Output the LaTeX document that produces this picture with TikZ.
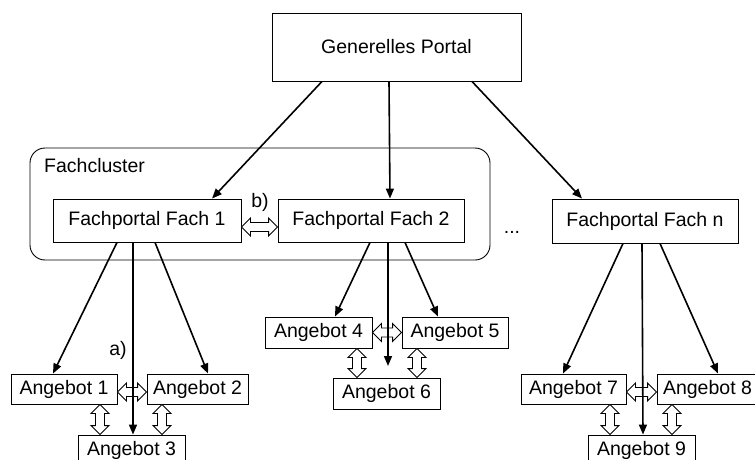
\documentclass[tikz,border=0pt]{standalone}
\usepackage{fontspec}
\setmainfont{Liberation Sans}
\usetikzlibrary{arrows.meta,calc}
\begin{document}
\begin{tikzpicture}[x=1pt,y=-1pt,
  txt/.style={font=\fontsize{19.5}{23}\selectfont, inner sep=0pt},
  box/.style={txt, draw, line width=0.9pt, fill=white},
  abox/.style={box, minimum height=30pt},
  fbox/.style={box, minimum height=43pt, minimum width=187pt},
  arr/.style={line width=1.6pt, -{Triangle[length=10pt,width=8pt]}},
  hollowh/.style={line width=0.9pt, fill=white, to path={
    (\tikztostart) -- ($(\tikztostart)+(9pt,9pt)$) -- ($(\tikztostart)+(9pt,4.5pt)$)
    -- ($(\tikztotarget)+(-9pt,4.5pt)$) -- ($(\tikztotarget)+(-9pt,9pt)$) -- (\tikztotarget)
    -- ($(\tikztotarget)+(-9pt,-9pt)$) -- ($(\tikztotarget)+(-9pt,-4.5pt)$)
    -- ($(\tikztostart)+(9pt,-4.5pt)$) -- ($(\tikztostart)+(9pt,-9pt)$) -- cycle}},
  hollowv/.style={line width=0.9pt, fill=white, to path={
    (\tikztostart) -- ($(\tikztostart)+(9pt,-9pt)$) -- ($(\tikztostart)+(4.5pt,-9pt)$)
    -- ($(\tikztotarget)+(4.5pt,9pt)$) -- ($(\tikztotarget)+(9pt,9pt)$) -- (\tikztotarget)
    -- ($(\tikztotarget)+(-9pt,9pt)$) -- ($(\tikztotarget)+(-4.5pt,9pt)$)
    -- ($(\tikztostart)+(-4.5pt,-9pt)$) -- ($(\tikztostart)+(-9pt,-9pt)$) -- cycle}}
]
\useasboundingbox (0,0) rectangle (755,460);
\clip (0,0) rectangle (755,460);

% cluster
\node[draw, line width=0.9pt, rounded corners=15pt, minimum width=460pt, minimum height=112pt, inner sep=0pt] (cl) at (260,204) {};
\node[txt, anchor=base west] (cllabel) at (44,172) {Fachcluster};

% top
\node[box, minimum width=249pt, minimum height=68pt] (gp) at (396.5,47) {Generelles Portal};

% portals
\node[fbox, minimum width=188pt] (f1) at (147,220.5) {Fachportal Fach 1};
\node[fbox, minimum width=186pt] (f2) at (371,220.5) {Fachportal Fach 2};
\node[fbox, minimum width=186pt, minimum height=44pt] (fn) at (645,221) {Fachportal Fach n};
\node[txt, anchor=base] (dots) at (512,233) {...};

% offers
\node[abox, minimum width=106pt] (a1) at (64,389) {Angebot 1};
\node[abox, minimum width=101pt] (a2) at (197.5,389) {Angebot 2};
\node[abox, minimum width=107pt, minimum height=31pt] (a3) at (131.5,450.5) {Angebot 3};
\node[abox, minimum width=107pt, minimum height=31pt] (a4) at (318.5,332.5) {Angebot 4};
\node[abox, minimum width=106pt, minimum height=31pt] (a5) at (455,332.5) {Angebot 5};
\node[abox, minimum width=107pt, minimum height=31pt] (a6) at (386.5,393.5) {Angebot 6};
\node[abox, minimum width=105pt] (a7) at (573.5,389) {Angebot 7};
\node[abox, minimum width=101pt] (a8) at (707.5,389) {Angebot 8};
\node[abox, minimum width=107pt, minimum height=31pt] (a9) at (641.5,450.5) {Angebot 9};

% labels
\node[txt] (la) at (118,350) {a)};
\node[txt] (lb) at (260,202.5) {b)};

% hollow double arrows
\draw[hollowh] ([yshift=-6.5pt]f1.east) to ([yshift=-6.5pt]f2.west);
\draw[hollowh] ([yshift=-3pt]a1.east) to ([yshift=-3pt]a2.west);
\draw[hollowv] ([xshift=36pt]a1.south) to ([xshift=-31.5pt]a3.north);
\draw[hollowv] ([xshift=-35.5pt]a2.south) to ([xshift=30.5pt]a3.north);
\draw[hollowh] (a4.east) to (a5.west);
\draw[hollowv] ([xshift=38.5pt]a4.south) to ([xshift=-29.5pt]a6.north);
\draw[hollowv] ([xshift=-38pt]a5.south) to ([xshift=30.5pt]a6.north);
\draw[hollowh] ([yshift=-3pt]a7.east) to ([yshift=-3pt]a8.west);
\draw[hollowv] ([xshift=36.5pt]a7.south) to ([xshift=-31.5pt]a9.north);
\draw[hollowv] ([xshift=-35.5pt]a8.south) to ([xshift=30.5pt]a9.north);

% arrows from top
\draw[arr] ([xshift=-74.5pt]gp.south) -- ([xshift=65pt]f1.north);
\draw[arr] ([xshift=-7.5pt]gp.south) -- ([xshift=19pt]f2.north);
\draw[arr] ([xshift=75.5pt]gp.south) -- ([xshift=-63pt]fn.north);

% arrows to offers
\draw[arr] ([xshift=-30pt]f1.south) -- ([xshift=-11pt]a1.north);
\draw[arr] ([xshift=-14pt]f1.south) -- ([xshift=1.5pt]a3.north);
\draw[arr] ([xshift=8pt]f1.south) -- ([xshift=10.5pt]a2.north);

\coordinate (m6) at (388,366);
\draw[arr] ([xshift=-1pt]f2.south) -- ([xshift=16.5pt]a4.north);
\draw[arr] ([xshift=17pt]f2.south) -- (m6);
\draw[arr] ([xshift=34pt]f2.south) -- ([xshift=-17pt]a5.north);

\draw[arr] ([xshift=-22pt]fn.south) -- ([xshift=-10.5pt]a7.north);
\draw[arr] ([xshift=-3pt]fn.south) -- ([xshift=1.5pt]a9.north);
\draw[arr] ([xshift=15pt]fn.south) -- ([xshift=10.5pt]a8.north);
\end{tikzpicture}
\end{document}
